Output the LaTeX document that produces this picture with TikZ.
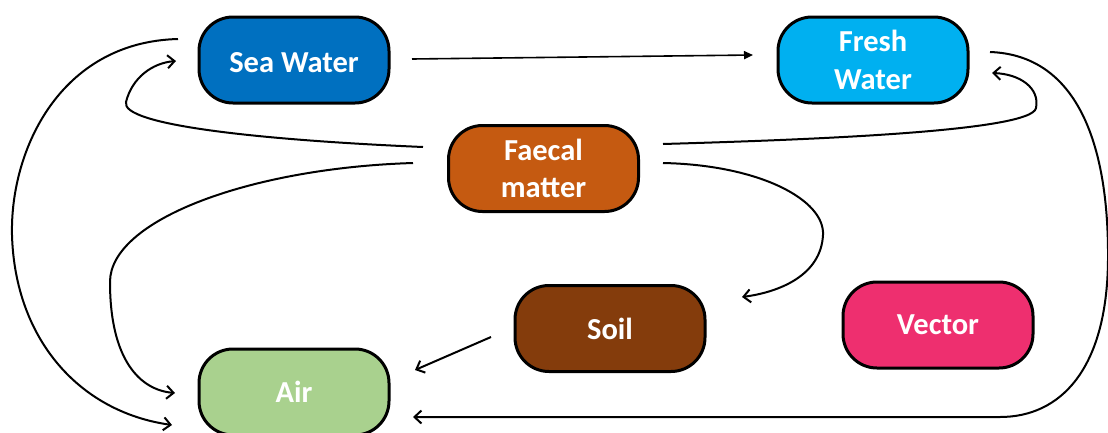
\documentclass[tikz,border=0pt]{standalone}
\usepackage{fontspec}
\setmainfont{Carlito}
\usetikzlibrary{arrows.meta}
\definecolor{seacol}{HTML}{0070C0}
\definecolor{freshcol}{HTML}{00B0F0}
\definecolor{faecalcol}{HTML}{C55A11}
\definecolor{soilcol}{HTML}{843C0C}
\definecolor{vectorcol}{HTML}{EE2F6F}
\definecolor{aircol}{HTML}{A9D18E}
\tikzset{
  box/.style={draw=black, line width=3pt, rounded corners=34pt, minimum width=190pt,
    minimum height=86pt, text=white, align=center,
    font=\fontsize{30.5}{37.5}\selectfont\bfseries, inner sep=0pt},
  conn/.style={line width=2pt, -{Straight Barb[length=7pt,width=13pt,line width=2pt]}},
  straightconn/.style={line width=1.6pt, -{Triangle[length=9pt,width=8pt]}}
}
\begin{document}
\begin{tikzpicture}[x=1pt,y=-1pt]
\clip (0,0) rectangle (1108,432);
\node[box, fill=seacol, text height=25pt, text depth=0pt] (sea) at (294,60) {Sea Water};
\node[box, fill=freshcol] (fresh) at (873,60) {Fresh\\Water};
\node[box, fill=faecalcol] (faecal) at (543.5,168.5) {Faecal\\matter};
\node[box, fill=soilcol] (soil) at (610,328.5) {Soil};
\node[box, fill=vectorcol] (vector) at (938,325) {Vector};
\node[box, fill=aircol] (air) at (294,392) {Air};

% free ends of connectors
\coordinate (sfA) at (412,59);
\coordinate (sfB) at (753,55);
\coordinate (fsA) at (423,147);
\coordinate (fsB) at (176,61);
\coordinate (saA) at (178,39);
\coordinate (saB) at (172,425);
\coordinate (faA) at (413,163);
\coordinate (faB) at (175,393);
\coordinate (ffA) at (663,144);
\coordinate (ffB) at (992,73);
\coordinate (frA) at (990,52);
\coordinate (frB) at (413,417);
\coordinate (fsoA) at (663,163);
\coordinate (fsoB) at (742,297);
\coordinate (soA) at (491,337);
\coordinate (soB) at (415,370);

\draw[straightconn] (sfA) -- (sfB);
\draw[conn] (fsA) .. controls (260,140) and (120,125) .. (126,102)
  .. controls (132,78) and (152,63) .. (fsB);
\draw[conn] (saA) .. controls (60,42) and (10,150) .. (12,235)
  .. controls (15,340) and (80,412) .. (saB);
\draw[conn] (faA) .. controls (250,168) and (110,220) .. (110,282)
  .. controls (110,360) and (140,390) .. (faB);
\draw[conn] (ffA) .. controls (800,140) and (1032,132) .. (1036,108)
  .. controls (1040,88) and (1020,74) .. (ffB);
\draw[conn] (frA) .. controls (1075,55) and (1109,140) .. (1108,260)
  .. controls (1107,370) and (1060,417) .. (1000,417) -- (frB);
\draw[conn] (fsoA) .. controls (760,165) and (825,200) .. (823,235)
  .. controls (821,275) and (780,292) .. (fsoB);
\draw[conn] (soA) -- (soB);
\end{tikzpicture}
\end{document}
